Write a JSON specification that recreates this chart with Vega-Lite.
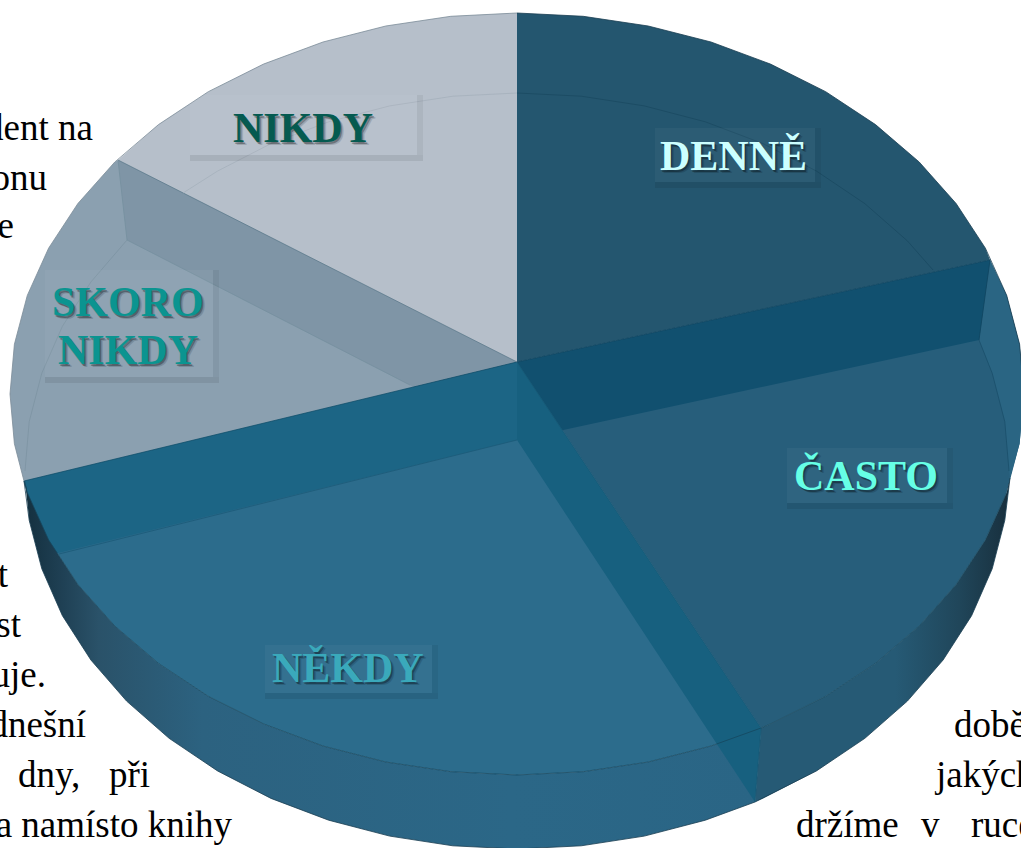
{"$schema":"https://vega.github.io/schema/vega-lite/v6.json","width":1021,"height":848,"padding":0,"autosize":"none","background":"white","config":{"view":{"stroke":null}},
"encoding":{"x":{"field":"x","type":"quantitative","scale":{"domain":[0,1021],"nice":false,"zero":false},"axis":null},"y":{"field":"y","type":"quantitative","scale":{"domain":[848,0],"nice":false,"zero":false},"axis":null}},
"datasets":{
"plochy":[
{"dil":"nikdy","x":517,"y":362},{"dil":"nikdy","x":517,"y":13},{"dil":"nikdy","x":450.8,"y":16.3},{"dil":"nikdy","x":385.8,"y":26},{"dil":"nikdy","x":323,"y":42},{"dil":"nikdy","x":263.5,"y":64.1},{"dil":"nikdy","x":208.3,"y":91.7},{"dil":"nikdy","x":158.5,"y":124.6},{"dil":"nikdy","x":118,"y":160},
{"dil":"skoro","x":517,"y":362},{"dil":"skoro","x":118,"y":160},{"dil":"skoro","x":114.8,"y":162},{"dil":"skoro","x":77.9,"y":203.5},{"dil":"skoro","x":48.6,"y":248.2},{"dil":"skoro","x":27.3,"y":295.4},{"dil":"skoro","x":14.4,"y":344.3},{"dil":"skoro","x":10,"y":394},{"dil":"skoro","x":14.4,"y":443.7},{"dil":"skoro","x":24,"y":481},
{"dil":"skoroStena","x":517,"y":362},{"dil":"skoroStena","x":118,"y":160},{"dil":"skoroStena","x":127,"y":240},{"dil":"skoroStena","x":517,"y":440},
{"dil":"denne","x":517,"y":362},{"dil":"denne","x":517,"y":13},{"dil":"denne","x":583.2,"y":16.3},{"dil":"denne","x":648.2,"y":26},{"dil":"denne","x":711,"y":42},{"dil":"denne","x":770.5,"y":64.1},{"dil":"denne","x":825.7,"y":91.7},{"dil":"denne","x":875.5,"y":124.6},{"dil":"denne","x":919.2,"y":162},{"dil":"denne","x":956.1,"y":203.5},{"dil":"denne","x":985.4,"y":248.2},{"dil":"denne","x":990,"y":260},
{"dil":"casto","x":517,"y":362},{"dil":"casto","x":990,"y":260},{"dil":"casto","x":1006.7,"y":295.4},{"dil":"casto","x":1019.6,"y":344.3},{"dil":"casto","x":1024,"y":394},{"dil":"casto","x":1019.6,"y":443.7},{"dil":"casto","x":1006.7,"y":492.6},{"dil":"casto","x":985.4,"y":539.8},{"dil":"casto","x":956.1,"y":584.5},{"dil":"casto","x":919.2,"y":626},{"dil":"casto","x":875.5,"y":663.4},{"dil":"casto","x":825.7,"y":696.3},{"dil":"casto","x":770.5,"y":723.9},{"dil":"casto","x":761,"y":728},
{"dil":"sliver","x":990,"y":260},{"dil":"sliver","x":1006.7,"y":295.4},{"dil":"sliver","x":1019.6,"y":344.3},{"dil":"sliver","x":1024,"y":394},{"dil":"sliver","x":1019.6,"y":443.7},{"dil":"sliver","x":1010,"y":478},{"dil":"sliver","x":1009,"y":471},{"dil":"sliver","x":1004.8,"y":421.7},{"dil":"sliver","x":992.2,"y":373.2},{"dil":"sliver","x":979,"y":340},
{"dil":"denneStena","x":517,"y":362},{"dil":"denneStena","x":990,"y":260},{"dil":"denneStena","x":979,"y":340},{"dil":"denneStena","x":517,"y":440},
{"dil":"nekdy","x":517,"y":362},{"dil":"nekdy","x":761,"y":728},{"dil":"nekdy","x":711,"y":746},{"dil":"nekdy","x":648.2,"y":762},{"dil":"nekdy","x":583.2,"y":771.7},{"dil":"nekdy","x":517,"y":775},{"dil":"nekdy","x":450.8,"y":771.7},{"dil":"nekdy","x":385.8,"y":762},{"dil":"nekdy","x":323,"y":746},{"dil":"nekdy","x":263.5,"y":723.9},{"dil":"nekdy","x":208.3,"y":696.3},{"dil":"nekdy","x":158.5,"y":663.4},{"dil":"nekdy","x":114.8,"y":626},{"dil":"nekdy","x":77.9,"y":584.5},{"dil":"nekdy","x":48.6,"y":539.8},{"dil":"nekdy","x":27.3,"y":492.6},{"dil":"nekdy","x":24,"y":481},
{"dil":"bandE","x":517,"y":362},{"dil":"bandE","x":24,"y":481},{"dil":"bandE","x":42,"y":557},{"dil":"bandE","x":517,"y":440},
{"dil":"bandD","x":517,"y":362},{"dil":"bandD","x":761,"y":728},{"dil":"bandD","x":755,"y":802},{"dil":"bandD","x":517,"y":440}
],
"stenaNekdy":[
{"x":25,"y":480},{"x":27.3,"y":492.6},{"x":48.6,"y":539.8},{"x":77.9,"y":584.5},{"x":114.8,"y":626},{"x":158.5,"y":663.4},{"x":208.3,"y":696.3},{"x":263.5,"y":723.9},{"x":323,"y":746},{"x":385.8,"y":762},{"x":450.8,"y":771.7},{"x":517,"y":775},{"x":583.2,"y":771.7},{"x":648.2,"y":762},{"x":711,"y":746},{"x":761,"y":728},{"x":755,"y":802},{"x":705.3,"y":820.2},{"x":644.3,"y":836.1},{"x":581.2,"y":845.8},{"x":517,"y":849},{"x":452.8,"y":845.8},{"x":389.7,"y":836.1},{"x":328.7,"y":820.2},{"x":271,"y":798.4},{"x":217.5,"y":770.9},{"x":169.1,"y":738.3},{"x":126.6,"y":701.1},{"x":90.9,"y":660},{"x":62.4,"y":615.7},{"x":41.8,"y":568.8},{"x":29.2,"y":520.3}
],
"stenaCasto":[
{"x":761,"y":728},{"x":770.5,"y":723.9},{"x":825.7,"y":696.3},{"x":875.5,"y":663.4},{"x":919.2,"y":626},{"x":956.1,"y":584.5},{"x":985.4,"y":539.8},{"x":1006.7,"y":492.6},{"x":1010,"y":478},{"x":1004.8,"y":520.3},{"x":992.2,"y":568.8},{"x":971.6,"y":615.7},{"x":943.1,"y":660},{"x":907.4,"y":701.1},{"x":864.9,"y":738.3},{"x":816.5,"y":770.9},{"x":763,"y":798.4},{"x":755,"y":802}
],
"cary":[
{"cara":"rim","x":24,"y":481},{"cara":"rim","x":27.3,"y":492.6},{"cara":"rim","x":48.6,"y":539.8},{"cara":"rim","x":77.9,"y":584.5},{"cara":"rim","x":114.8,"y":626},{"cara":"rim","x":158.5,"y":663.4},{"cara":"rim","x":208.3,"y":696.3},{"cara":"rim","x":263.5,"y":723.9},{"cara":"rim","x":323,"y":746},{"cara":"rim","x":385.8,"y":762},{"cara":"rim","x":450.8,"y":771.7},{"cara":"rim","x":517,"y":775},{"cara":"rim","x":583.2,"y":771.7},{"cara":"rim","x":648.2,"y":762},{"cara":"rim","x":711,"y":746},{"cara":"rim","x":761,"y":728},{"cara":"rim","x":770.5,"y":723.9},{"cara":"rim","x":825.7,"y":696.3},{"cara":"rim","x":875.5,"y":663.4},{"cara":"rim","x":919.2,"y":626},{"cara":"rim","x":956.1,"y":584.5},{"cara":"rim","x":985.4,"y":539.8},{"cara":"rim","x":1006.7,"y":492.6},
{"cara":"obrysD","x":24,"y":481},{"cara":"obrysD","x":29.2,"y":520.3},{"cara":"obrysD","x":41.8,"y":568.8},{"cara":"obrysD","x":62.4,"y":615.7},{"cara":"obrysD","x":90.9,"y":660},{"cara":"obrysD","x":126.6,"y":701.1},{"cara":"obrysD","x":169.1,"y":738.3},{"cara":"obrysD","x":217.5,"y":770.9},{"cara":"obrysD","x":271,"y":798.4},{"cara":"obrysD","x":328.7,"y":820.2},{"cara":"obrysD","x":389.7,"y":836.1},{"cara":"obrysD","x":452.8,"y":845.8},{"cara":"obrysD","x":517,"y":849},{"cara":"obrysD","x":581.2,"y":845.8},{"cara":"obrysD","x":644.3,"y":836.1},{"cara":"obrysD","x":705.3,"y":820.2},{"cara":"obrysD","x":755,"y":802},{"cara":"obrysD","x":816.5,"y":770.9},{"cara":"obrysD","x":864.9,"y":738.3},{"cara":"obrysD","x":907.4,"y":701.1},{"cara":"obrysD","x":943.1,"y":660},{"cara":"obrysD","x":971.6,"y":615.7},{"cara":"obrysD","x":992.2,"y":568.8},{"cara":"obrysD","x":1004.8,"y":520.3},{"cara":"obrysD","x":1010,"y":478},
{"cara":"obrysH","x":517,"y":13},{"cara":"obrysH","x":583.2,"y":16.3},{"cara":"obrysH","x":648.2,"y":26},{"cara":"obrysH","x":711,"y":42},{"cara":"obrysH","x":770.5,"y":64.1},{"cara":"obrysH","x":825.7,"y":91.7},{"cara":"obrysH","x":875.5,"y":124.6},{"cara":"obrysH","x":919.2,"y":162},{"cara":"obrysH","x":956.1,"y":203.5},{"cara":"obrysH","x":985.4,"y":248.2},{"cara":"obrysH","x":1006.7,"y":295.4},{"cara":"obrysH","x":1019.6,"y":344.3},{"cara":"obrysH","x":1024,"y":394},
{"cara":"vnitrniD","x":517,"y":93},{"cara":"vnitrniD","x":581.2,"y":96.2},{"cara":"vnitrniD","x":644.3,"y":105.9},{"cara":"vnitrniD","x":705.3,"y":121.8},{"cara":"vnitrniD","x":763,"y":143.6},{"cara":"vnitrniD","x":816.5,"y":171.1},{"cara":"vnitrniD","x":864.9,"y":203.7},{"cara":"vnitrniD","x":907.4,"y":240.9},{"cara":"vnitrniD","x":933,"y":270},
{"cara":"vnitrniC","x":979,"y":340},{"cara":"vnitrniC","x":992.2,"y":373.2},{"cara":"vnitrniC","x":1004.8,"y":421.7},{"cara":"vnitrniC","x":1009,"y":471},
{"cara":"hranaCD","x":517,"y":362},{"cara":"hranaCD","x":990,"y":260},{"cara":"hranaCD","x":979,"y":340},
{"cara":"hranaN","x":517,"y":362},{"cara":"hranaN","x":761,"y":728},{"cara":"hranaN","x":755,"y":802},
{"cara":"hranaE","x":517,"y":362},{"cara":"hranaE","x":24,"y":481},
{"cara":"hranaE2","x":517,"y":440},{"cara":"hranaE2","x":59,"y":554},
{"cara":"hranaF","x":118,"y":160},{"cara":"hranaF","x":517,"y":362},
{"cara":"faintN","x":517,"y":93},{"cara":"faintN","x":453,"y":96.2},{"cara":"faintN","x":389.7,"y":105.9},{"cara":"faintN","x":328.7,"y":121.8},{"cara":"faintN","x":271,"y":143.6},{"cara":"faintN","x":217.5,"y":171.1},{"cara":"faintN","x":183,"y":193},
{"cara":"faintS","x":127,"y":240},{"cara":"faintS","x":90.9,"y":282},{"cara":"faintS","x":62.4,"y":326.3},{"cara":"faintS","x":41.8,"y":373.2},{"cara":"faintS","x":29.2,"y":421.7},{"cara":"faintS","x":25,"y":471},
{"cara":"faintF","x":118,"y":160},{"cara":"faintF","x":127,"y":240},{"cara":"faintF","x":410,"y":385},
{"cara":"obrysS","x":517,"y":13},{"cara":"obrysS","x":450.8,"y":16.3},{"cara":"obrysS","x":385.8,"y":26},{"cara":"obrysS","x":323,"y":42},{"cara":"obrysS","x":263.5,"y":64.1},{"cara":"obrysS","x":208.3,"y":91.7},{"cara":"obrysS","x":158.5,"y":124.6},{"cara":"obrysS","x":114.8,"y":162},{"cara":"obrysS","x":77.9,"y":203.5},{"cara":"obrysS","x":48.6,"y":248.2},{"cara":"obrysS","x":27.3,"y":295.4},{"cara":"obrysS","x":14.4,"y":344.3},{"cara":"obrysS","x":10,"y":394},{"cara":"obrysS","x":14.4,"y":443.7},{"cara":"obrysS","x":24,"y":481}
],
"boxy":[
{"kategorie":"DENNĚ","x":655,"x2":815,"y":128,"y2":182,"xs":821,"ys":188},
{"kategorie":"ČASTO","x":787,"x2":947,"y":448,"y2":503,"xs":953,"ys":509},
{"kategorie":"NĚKDY","x":265,"x2":432,"y":645,"y2":693,"xs":438,"ys":699},
{"kategorie":"SKORO NIKDY","x":45,"x2":213,"y":270,"y2":377,"xs":219,"ys":383},
{"kategorie":"NIKDY","x":190,"x2":417,"y":95,"y2":155,"xs":423,"ys":161}
],
"popisky":[
{"kategorie":"DENNĚ","text":"DENNĚ","x":660,"y":170},
{"kategorie":"ČASTO","text":"ČASTO","x":794,"y":490},
{"kategorie":"NĚKDY","text":"NĚKDY","x":272,"y":682},
{"kategorie":"SKORO NIKDY","text":"SKORO","x":52,"y":316},
{"kategorie":"SKORO NIKDY","text":"NIKDY","x":58,"y":364},
{"kategorie":"NIKDY","text":"NIKDY","x":233,"y":142}
],
"textVpravo":[
{"text":"student na","x":93,"y":140},{"text":"telefonu","x":47,"y":190},{"text":"že","x":14,"y":238},{"text":"t","x":8,"y":587},{"text":"st","x":21,"y":637},{"text":"uje.","x":46,"y":687},{"text":"dnešní","x":86,"y":737},{"text":"a namísto knihy","x":232,"y":837}
],
"textVlevo":[
{"text":"dny,","x":18,"y":787},{"text":"při","x":109,"y":787},{"text":"době","x":954,"y":737},{"text":"jakých","x":936,"y":787},{"text":"držíme","x":796,"y":837},{"text":"v","x":921,"y":837},{"text":"ruce","x":971,"y":837}
]
},
"resolve":{"scale":{"color":"independent"}},
"layer":[
{"data":{"name":"textVpravo"},"mark":{"type":"text","align":"right","baseline":"alphabetic","font":"Liberation Serif","fontSize":37,"color":"#000000"},"encoding":{"text":{"field":"text"}}},
{"data":{"name":"textVlevo"},"mark":{"type":"text","align":"left","baseline":"alphabetic","font":"Liberation Serif","fontSize":37,"color":"#000000"},"encoding":{"text":{"field":"text"}}},
{"data":{"name":"plochy"},"transform":[{"window":[{"op":"row_number","as":"i"}]},{"filter":"indexof(['nikdy','skoro','skoroStena','denne','casto','sliver','denneStena','nekdy','bandE'],datum.dil)>=0"}],"mark":{"type":"line","filled":true,"strokeWidth":0},"encoding":{"order":{"field":"i","type":"quantitative"},"color":{"field":"dil","type":"nominal","legend":null,"scale":{"domain":["nikdy","skoro","skoroStena","denne","casto","sliver","denneStena","nekdy","bandE"],"range":["#b6bfca","#8ba0b0","#7f95a6","#24566f","#275e7b","#2a6583","#11506f","#2c6c8c","#1c6585"]}}}},
{"data":{"name":"stenaNekdy"},"transform":[{"window":[{"op":"row_number","as":"i"}]}],"mark":{"type":"line","filled":true,"strokeWidth":0,"fill":{"gradient":"linear","x1":0,"y1":0,"x2":1,"y2":0,"stops":[{"offset":0,"color":"#14303f"},{"offset":0.05,"color":"#1f4054"},{"offset":0.1,"color":"#2a5269"},{"offset":0.24,"color":"#2c6280"},{"offset":0.66,"color":"#2b6787"},{"offset":1,"color":"#2a6585"}]}},"encoding":{"order":{"field":"i","type":"quantitative"}}},
{"data":{"name":"stenaCasto"},"transform":[{"window":[{"op":"row_number","as":"i"}]}],"mark":{"type":"line","filled":true,"strokeWidth":0,"fill":{"gradient":"linear","x1":0,"y1":0,"x2":1,"y2":0,"stops":[{"offset":0,"color":"#265a75"},{"offset":0.55,"color":"#265a75"},{"offset":0.8,"color":"#20465a"},{"offset":1,"color":"#182f3d"}]}},"encoding":{"order":{"field":"i","type":"quantitative"}}},
{"data":{"name":"plochy"},"transform":[{"window":[{"op":"row_number","as":"i"}]},{"filter":"datum.dil==='bandD'"}],"mark":{"type":"line","filled":true,"strokeWidth":0,"fill":"#17607f"},"encoding":{"order":{"field":"i","type":"quantitative"}}},
{"data":{"name":"cary"},"transform":[{"window":[{"op":"row_number","as":"i"}]}],"mark":{"type":"line","strokeWidth":1,"opacity":0.8},"encoding":{"order":{"field":"i","type":"quantitative"},"color":{"field":"cara","type":"nominal","legend":null,"scale":{"domain":["rim","obrysD","obrysH","vnitrniD","vnitrniC","hranaCD","hranaN","hranaE","hranaE2","hranaF","faintN","faintS","faintF","obrysS"],"range":["#15475f","#1a3f53","#1a3f53","#1a4a62","#1a4f6a","#0f4560","#155673","#14506c","#1c5a78","#5e7a8c","#a5b0bc","#7d93a3","#76909f","#7c8c99"]}}}},
{"data":{"name":"boxy"},"mark":{"type":"rect","fill":"#000000","opacity":0.08},"encoding":{"y":{"field":"y2","type":"quantitative"},"x2":{"field":"xs"},"y2":{"field":"ys"}}},
{"data":{"name":"boxy"},"mark":{"type":"rect","fill":"#000000","opacity":0.05},"encoding":{"x":{"field":"x2","type":"quantitative"},"x2":{"field":"xs"},"y2":{"field":"y2"}}},
{"data":{"name":"boxy"},"mark":{"type":"rect","fill":"#ffffff","opacity":0.04},"encoding":{"x2":{"field":"x2"},"y2":{"field":"y2"}}},
{"data":{"name":"popisky"},"mark":{"type":"text","align":"left","baseline":"alphabetic","font":"Liberation Serif","fontWeight":"bold","fontSize":42,"color":"#000000","opacity":0.14,"dx":3,"dy":3},"encoding":{"text":{"field":"text"}}},
{"data":{"name":"popisky"},"mark":{"type":"text","align":"left","baseline":"alphabetic","font":"Liberation Serif","fontWeight":"bold","fontSize":42,"color":"#000000","opacity":0.3,"dx":1.5,"dy":1.5},"encoding":{"text":{"field":"text"}}},
{"data":{"name":"popisky"},"mark":{"type":"text","align":"left","baseline":"alphabetic","font":"Liberation Serif","fontWeight":"bold","fontSize":42},"encoding":{"text":{"field":"text"},"color":{"field":"kategorie","type":"nominal","legend":null,"scale":{"domain":["DENNĚ","ČASTO","NĚKDY","SKORO NIKDY","NIKDY"],"range":["#ccffff","#66ffe6","#3aa9bb","#0b9490","#055a50"]}}}}
]}
